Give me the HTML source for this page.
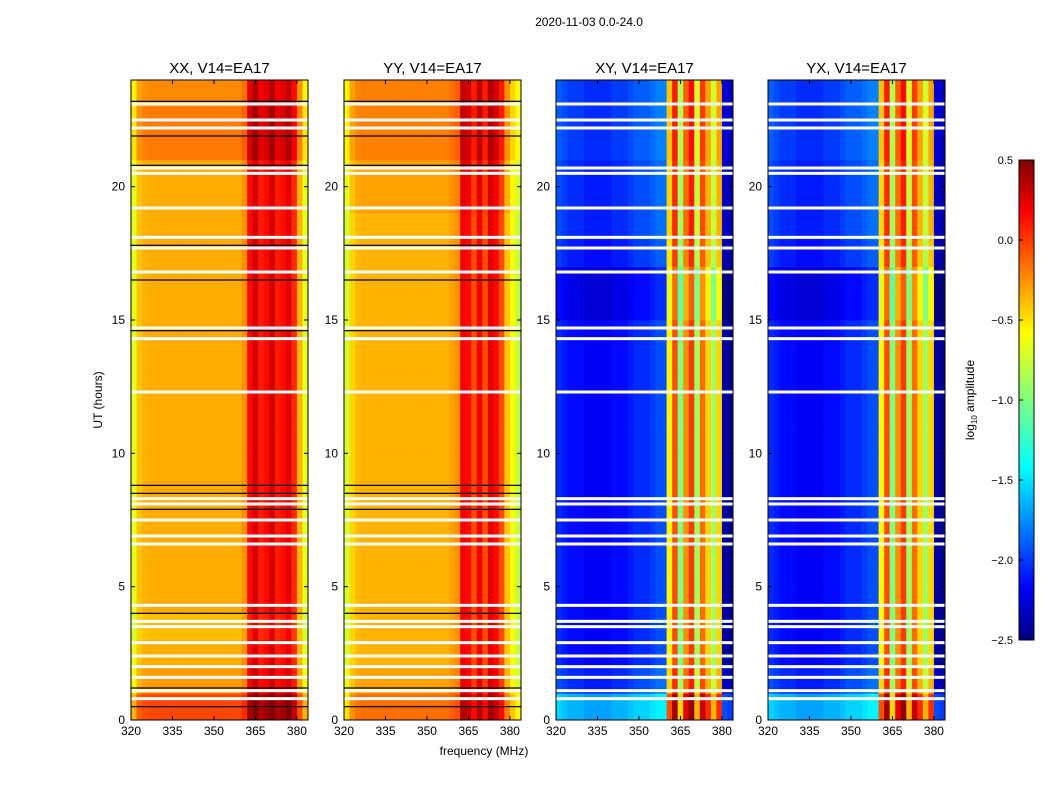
<!DOCTYPE html>
<html><head><meta charset="utf-8"><style>
body{margin:0;background:#fff;font-family:"Liberation Sans",sans-serif}
svg text{font-family:"Liberation Sans",sans-serif}
</style></head><body>
<svg id="fig" width="1050" height="800" xmlns="http://www.w3.org/2000/svg">
<rect width="1050" height="800" fill="#fff"/>
<text x="589" y="26" font-size="12" text-anchor="middle">2020-11-03 0.0-24.0</text>
<text x="484" y="755" font-size="12" text-anchor="middle">frequency (MHz)</text>
<text transform="translate(102,400) rotate(-90)" font-size="12" text-anchor="middle">UT (hours)</text>
<defs><linearGradient id="jet" x1="0" y1="1" x2="0" y2="0">
<stop offset="0" stop-color="#00007f"/><stop offset="0.11" stop-color="#0000ff"/><stop offset="0.36" stop-color="#00ffff"/><stop offset="0.5" stop-color="#7fff7f"/><stop offset="0.64" stop-color="#ffff00"/><stop offset="0.89" stop-color="#ff0000"/><stop offset="1" stop-color="#7f0000"/></linearGradient></defs>
<g>
<rect x="1019" y="160" width="15" height="480" fill="url(#jet)" stroke="#000"/>
<text transform="translate(974,400) rotate(-90)" font-size="12" text-anchor="middle">log<tspan font-size="8" dy="3">10</tspan><tspan dy="-3"> amplitude</tspan></text>
</g>
<g id="panels"></g>
</svg>
<script>
const freqMin=320, freqMax=384, tMin=0, tMax=24;
const cmin=-2.5, cmax=0.5;
const panelTitles=["XX, V14=EA17","YY, V14=EA17","XY, V14=EA17","YX, V14=EA17"];
const panelLefts=[131,344,556,768];
// frequency profiles: 2 MHz bins from 320 to 384
const xxFreq=[-0.7,-0.45,-0.4,-0.38,-0.38,-0.38,-0.38,-0.38,-0.38,-0.38,-0.38,-0.38,-0.38,-0.38,-0.38,-0.38,-0.38,-0.38,-0.38,-0.38,-0.3,0.1,0.25,0.05,0.1,0.25,0.05,0.1,0.2,0.0,-0.4,-0.7];
const yyFreq=[-0.75,-0.5,-0.42,-0.4,-0.4,-0.4,-0.4,-0.4,-0.4,-0.4,-0.4,-0.4,-0.4,-0.4,-0.4,-0.4,-0.4,-0.4,-0.4,-0.35,-0.3,0.15,0.1,-0.1,0.15,-0.1,0.2,0.1,-0.1,-0.45,-0.65,-0.8];
const xyFreq=[-2.0,-2.05,-2.1,-2.1,-2.1,-2.15,-2.15,-2.15,-2.15,-2.15,-2.1,-2.1,-2.1,-2.05,-2.0,-2.0,-2.0,-1.95,-1.9,-1.9,-0.6,-0.1,-1.0,-0.3,-0.05,-0.9,-0.2,-0.5,-0.9,-0.5,-2.4,-2.45];
const yxFreq=[-2.0,-2.05,-2.1,-2.1,-2.1,-2.15,-2.15,-2.15,-2.15,-2.15,-2.1,-2.1,-2.1,-2.05,-2.0,-2.0,-2.0,-1.95,-1.9,-1.9,-0.6,-0.1,-1.0,-0.3,-0.05,-0.9,-0.2,-0.5,-0.9,-0.5,-2.4,-2.45];
// hourly offsets
const xxTime=[0.3,0.05,0,-0.05,0,0,0,0,0,0,0,0,0,0,0,0,0,0,0,0,0,0.15,0.15,0.1];
const yyTime=[0.2,0.05,0,0,0,0,0,0,0,0,0,0,0,0,0,0,0,0,0,0.05,0.05,0.15,0.15,0.15];
const xyTime=[0.5,0.1,0,0,0,0,0,0,0,0,0,0,0,0,0,-0.1,-0.1,0.05,0.1,0.1,0.1,0.15,0.15,0.15];
const yxTime=[0.5,0.1,0,0,0,0,0,0,0,0,0,0,0,0,0,-0.1,-0.1,0.05,0.1,0.1,0.1,0.15,0.15,0.15];
const flaggedTimes=[0.8,1.1,1.6,2.0,2.4,2.9,3.5,3.7,4.3,6.6,6.9,7.5,8.1,8.3,12.3,14.3,14.7,16.8,17.7,18.1,19.2,20.5,20.7,22.2,22.5,23.1];
const blackTimes=[0.5,1.2,4.0,7.9,8.5,8.8,14.6,16.5,17.8,20.8,21.9,23.2];
const xTicks=[320,335,350,365,380];
const yTicks=[0,5,10,15,20];
const cbTicks=[0.5,0.0,-0.5,-1.0,-1.5,-2.0,-2.5];
const freqs=[xxFreq,yyFreq,xyFreq,yxFreq];
const times=[xxTime,yyTime,xyTime,yxTime];
const W=177, plotTop=80, plotBottom=720;
function yScale(t){return plotBottom-(t-tMin)/(tMax-tMin)*(plotBottom-plotTop);}
function jet(v){let x=(v-cmin)/(cmax-cmin);x=Math.max(0,Math.min(1,x));
 const r=Math.max(0,Math.min(1,1.5-Math.abs(4*x-3))),g=Math.max(0,Math.min(1,1.5-Math.abs(4*x-2))),b=Math.max(0,Math.min(1,1.5-Math.abs(4*x-1)));
 return `rgb(${Math.round(r*255)},${Math.round(g*255)},${Math.round(b*255)})`;}
const NS="http://www.w3.org/2000/svg";
function mk(tag,attrs,parent){const e=document.createElementNS(NS,tag);for(const k in attrs)e.setAttribute(k,attrs[k]);parent.appendChild(e);return e;}
const root=document.getElementById('panels');
const svgRoot=document.getElementById('fig');
for(let p=0;p<4;p++){
 const L=panelLefts[p];
 const xScale=f=>L+(f-freqMin)/(freqMax-freqMin)*W;
 const g=mk('g',{},root);
 
 
 const fp=freqs[p], tp=times[p], df=(freqMax-freqMin)/fp.length, dt=(tMax-tMin)/tp.length;
 for(let j=0;j<tp.length;j++)for(let i=0;i<fp.length;i++){
  const x0=xScale(freqMin+i*df),x1=xScale(freqMin+(i+1)*df),y0=yScale(tMin+(j+1)*dt),y1=yScale(tMin+j*dt);
  const c=mk('rect',{x:x0,y:y0,width:x1-x0+0.3,height:y1-y0+0.3,fill:jet(fp[i]+tp[j])},g);
  
  
 }
 flaggedTimes.forEach(t=>{const r=mk('rect',{x:L,y:yScale(t)-1.5,width:W,height:3,fill:'#fff'},g);
  
  });
 if(p<2)blackTimes.forEach(t=>{const r=mk('rect',{x:L,y:yScale(t)-0.6,width:W,height:1.2,fill:'#000'},g);
  
  });
 mk('rect',{x:L,y:plotTop,width:W,height:plotBottom-plotTop,fill:'none',stroke:'#000'},g);
 const tt=mk('text',{x:L+W/2,y:73,'font-size':15,'text-anchor':'middle'},g);tt.textContent=panelTitles[p];
 
 
 xTicks.forEach(f=>{const x=xScale(f);mk('line',{x1:x,x2:x,y1:plotBottom,y2:plotBottom-4,stroke:'#000'},g);mk('line',{x1:x,x2:x,y1:plotTop,y2:plotTop+4,stroke:'#000'},g);
  const t=mk('text',{x:x,y:plotBottom+15,'font-size':12,'text-anchor':'middle'},g);t.textContent=f;
  
  });
 yTicks.forEach(v=>{const y=yScale(v);mk('line',{x1:L,x2:L+4,y1:y,y2:y,stroke:'#000'},g);mk('line',{x1:L+W,x2:L+W-4,y1:y,y2:y,stroke:'#000'},g);
  const t=mk('text',{x:L-6,y:y+4,'font-size':12,'text-anchor':'end'},g);t.textContent=v;
  
  });
}
cbTicks.forEach(v=>{const y=640-(v-cmin)/(cmax-cmin)*480;
 mk('line',{x1:1019,x2:1023,y1:y,y2:y,stroke:'#000'},svgRoot);
 const t=mk('text',{x:1013,y:y+4,'font-size':11,'text-anchor':'end'},svgRoot);t.textContent=(v<0?'\u2212':'')+Math.abs(v).toFixed(1);
 
 });
</script>
</body></html>
